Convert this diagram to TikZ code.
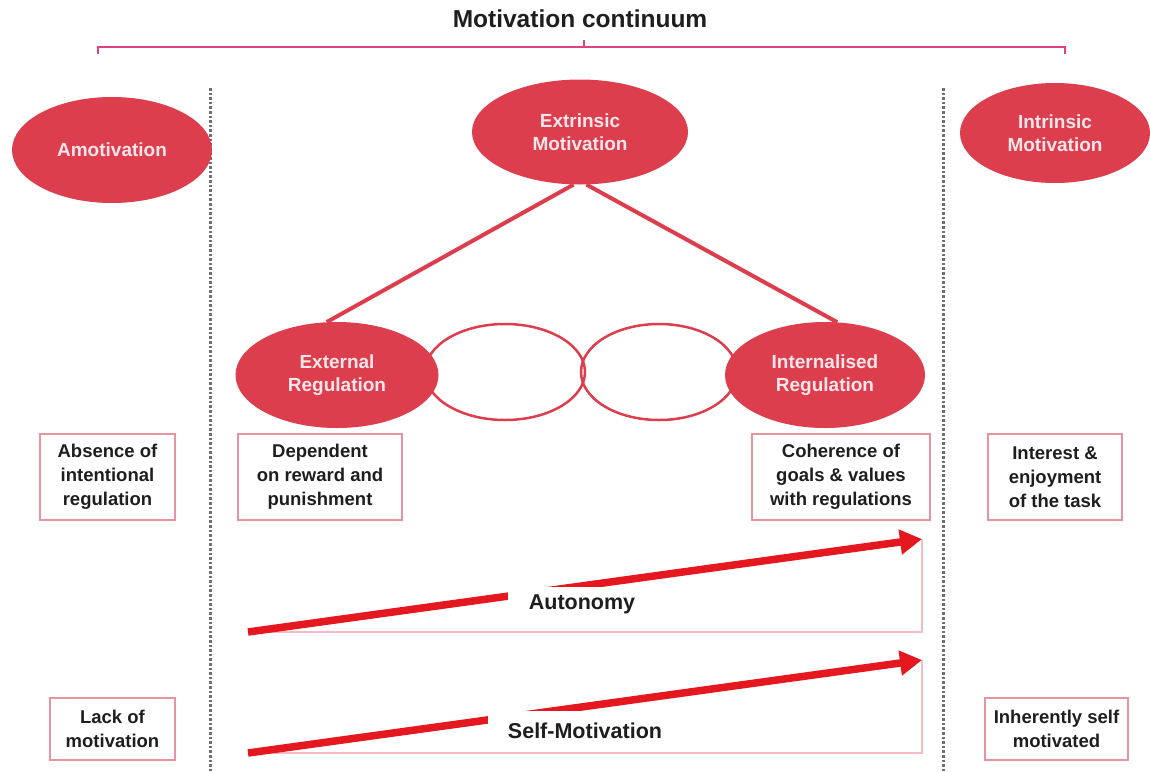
\documentclass[tikz,border=0pt]{standalone}
\usepackage{fontspec}
\setmainfont{Liberation Sans}
\usetikzlibrary{arrows.meta,shapes.geometric}

\definecolor{ellred}{HTML}{DD3E4E}
\definecolor{elltext}{HTML}{FCE6EA}
\definecolor{boxpink}{HTML}{E8949F}
\definecolor{arrowred}{HTML}{E5171F}
\definecolor{palepink}{HTML}{F6BCC6}
\definecolor{bracketpink}{HTML}{E0407F}
\definecolor{textdark}{HTML}{1E1E1E}
\definecolor{dotgray}{HTML}{6F6F6F}

\tikzset{
  fillell/.style={ellipse, fill=ellred, text=elltext, inner sep=0pt, align=center,
    font=\fontsize{19}{23}\selectfont\bfseries},
  openell/.style={ellipse, draw=ellred, line width=2.5pt, inner sep=0pt},
  link/.style={draw=ellred, line width=4pt},
  infobox/.style={draw=boxpink, line width=1.3pt, align=center, inner sep=0pt,
    text=textdark, font=\fontsize{18.5}{24}\selectfont\bfseries},
  axislabel/.style={fill=white, inner sep=0pt, text=textdark,
    font=\fontsize{21.5}{25}\selectfont\bfseries},
  climb/.style={draw=arrowred, line width=7.5pt, -{Triangle[length=22pt,width=24pt]}},
  rightframe/.style={draw=palepink, line width=1.8pt},
  divider/.style={draw=dotgray, line width=3pt, dash pattern=on 2.6pt off 2pt},
  bracket/.style={draw=bracketpink, line width=2.8pt},
}

\begin{document}
\begin{tikzpicture}[x=1pt,y=-1pt]
\useasboundingbox[fill=white] (0,0) rectangle (1150,771);

% heading and bracket over the whole continuum
\node[text=textdark, font=\fontsize{24.5}{28}\selectfont\bfseries] (title) at (580,19) {Motivation continuum};
\coordinate (brL) at (98,54);
\coordinate (brR) at (1065,54);
\coordinate (brM) at (584,47);
\draw[bracket] (brL) -- (98,47) -- (1065,47) -- (brR);
\draw[bracket] (brM) -- (584,40);

% dotted dividers between the three zones
\coordinate (divLtop) at (210,88);
\coordinate (divLbot) at (210,771);
\coordinate (divRtop) at (943,88);
\coordinate (divRbot) at (943,771);
\draw[divider] (divLtop) -- (divLbot);
\draw[divider] (divRtop) -- (divRbot);

% regulation chain
\node[openell, minimum width=160pt, minimum height=96pt] (mid1) at (505,372) {};
\node[openell, minimum width=156pt, minimum height=96pt] (mid2) at (659,372) {};

% motivation types
\node[fillell, minimum width=200pt, minimum height=106pt] (amot) at (112,150) {Amotivation};
\node[fillell, minimum width=216pt, minimum height=105pt] (ext) at (580,132) {Extrinsic\\Motivation};
\node[fillell, minimum width=190pt, minimum height=100pt] (intr) at (1055,133) {Intrinsic\\Motivation};
\node[fillell, minimum width=203pt, minimum height=106pt] (er) at (337,375) {External\\Regulation};
\node[fillell, minimum width=200pt, minimum height=106pt] (ir) at (825,375) {Internalised\\Regulation};

\draw[link] (ext.-97) -- (er.101);
\draw[link] (ext.-83) -- (ir.77);

% descriptions
\node[infobox, minimum width=135pt, minimum height=86pt] (absence) at (107.5,477) {Absence of\\intentional\\regulation};
\node[infobox, minimum width=164pt, minimum height=86pt] (depend) at (320,477) {Dependent\\on reward and\\punishment};
\node[infobox, minimum width=178pt, minimum height=86pt] (coher) at (841,477) {Coherence of\\goals \& values\\with regulations};
\node[infobox, minimum width=134pt, minimum height=86pt] (interest) at (1055,477) {Interest \&\\enjoyment\\of the task};
\node[infobox, minimum width=125pt, minimum height=62pt] (lack) at (112.5,729) {Lack of\\motivation};
\node[infobox, minimum width=143pt, minimum height=62pt] (inher) at (1056.5,729) {Inherently self\\motivated};

% autonomy gradient
\coordinate (autoStart) at (248,632);
\coordinate (autoTip) at (922,539);
\draw[rightframe] (autoStart) -- (autoStart -| autoTip) -- (autoTip);
\draw[climb] (autoStart) -- (autoTip);
\node[axislabel, minimum width=148pt, minimum height=34pt] (autonomy) at (582,604) {Autonomy};

% self-motivation gradient
\coordinate (selfStart) at (248,753);
\coordinate (selfTip) at (922,660);
\draw[rightframe] (selfStart) -- (selfStart -| selfTip) -- (selfTip);
\draw[climb] (selfStart) -- (selfTip);
\node[axislabel, minimum width=194pt, minimum height=40pt] (selfmot) at (585,731) {Self-Motivation};
\end{tikzpicture}
\end{document}
